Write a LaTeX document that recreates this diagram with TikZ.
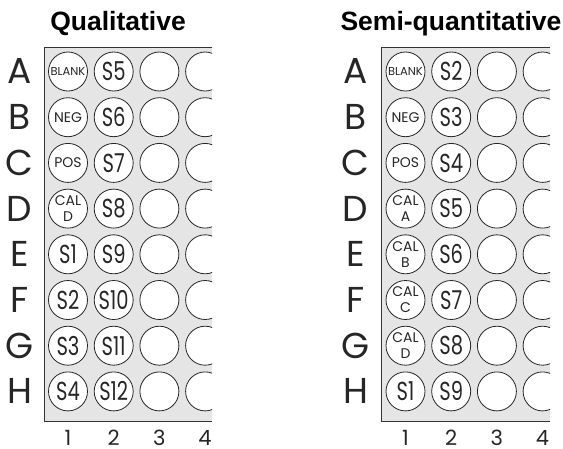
\documentclass[tikz,border=0pt]{standalone}
\usepackage{fontspec}
\setsansfont{Poppins}
\newfontfamily\titlefont{Liberation Sans}
\newfontfamily\wellfont[FakeStretch=0.75]{Poppins}
\usetikzlibrary{positioning}

\begin{document}
\begin{tikzpicture}[x=1pt, y=-1pt,
        plate/.style={fill=black!10},
        rim/.style={draw=black!80, line width=0.9pt},
        well/.style={circle, draw=black!85, fill=white, line width=0.8pt, minimum size=39pt, inner sep=0pt, align=center, font=\wellfont\fontsize{26}{26}\selectfont, text=black!85},
        ctl/.style={font=\sffamily\fontsize{14}{16}\selectfont},
        blank/.style={font=\sffamily\fontsize{11.5}{12}\selectfont},
        rowlab/.style={font=\sffamily\fontsize{36}{36}\selectfont, text=black!85},
        collab/.style={font=\sffamily\fontsize{21}{21}\selectfont, anchor=base, inner sep=1pt, text=black!85},
        title/.style={font=\titlefont\bfseries\fontsize{26.5}{28}\selectfont, anchor=base}
    ]
    \useasboundingbox (0,0) rectangle (563,448);

    % titles
    \node[title] (qual) at (118,30) {Qualitative};
    \node[title] (semi) at (451,30) {Semi-quantitative};

    % left plate
    \fill[plate] (44,47.5) rectangle (212,421.5);
    \begin{scope}
        \clip (44,47.5) rectangle (212,421.5);
        \node[well, blank] (qA1) at (68,71.5) {BLANK};
        \node[well, ctl] (qB1) at (68,117.2) {NEG};
        \node[well, ctl] (qC1) at (68,162.9) {POS};
        \node[well, ctl] (qD1) at (68,208.6) {CAL\\D};
        \node[well] (qE1) at (68,254.3) {S1};
        \node[well] (qF1) at (68,300.0) {S2};
        \node[well] (qG1) at (68,345.7) {S3};
        \node[well] (qH1) at (68,391.4) {S4};
        \foreach \r/\s [count=\i from 0] in {A/S5,B/S6,C/S7,D/S8,E/S9,F/S10,G/S11,H/S12} {
            \node[well] (q\r2) at (113.7,71.5+45.7*\i) {\s};
            \node[well] (q\r3) at (159.4,71.5+45.7*\i) {};
            \node[well] (q\r4) at (205.1,71.5+45.7*\i) {};
        }
    \end{scope}
    \draw[rim] (212,47.5) -- (44,47.5) -- (44,421.5) -- (212,421.5);
    \foreach \r [count=\i from 0] in {A,B,C,D,E,F,G,H}
        \node[rowlab] (qrow\r) at (19.5,71.5+45.7*\i) {\r};
    \foreach \c [count=\i from 0] in {1,2,3,4}
        \node[collab] (qcol\c) at (68+45.7*\i,445) {\c};

    % right plate
    \fill[plate] (381.5,47.5) rectangle (550,421.5);
    \begin{scope}
        \clip (381.5,47.5) rectangle (550,421.5);
        \node[well, blank] (sA1) at (405.5,71.5) {BLANK};
        \node[well, ctl] (sB1) at (405.5,117.2) {NEG};
        \node[well, ctl] (sC1) at (405.5,162.9) {POS};
        \node[well, ctl] (sD1) at (405.5,208.6) {CAL\\A};
        \node[well, ctl] (sE1) at (405.5,254.3) {CAL\\B};
        \node[well, ctl] (sF1) at (405.5,300.0) {CAL\\C};
        \node[well, ctl] (sG1) at (405.5,345.7) {CAL\\D};
        \node[well] (sH1) at (405.5,391.4) {S1};
        \foreach \r/\s [count=\i from 0] in {A/S2,B/S3,C/S4,D/S5,E/S6,F/S7,G/S8,H/S9} {
            \node[well] (s\r2) at (451.2,71.5+45.7*\i) {\s};
            \node[well] (s\r3) at (496.9,71.5+45.7*\i) {};
            \node[well] (s\r4) at (542.6,71.5+45.7*\i) {};
        }
    \end{scope}
    \draw[rim] (550,47.5) -- (381.5,47.5) -- (381.5,421.5) -- (550,421.5);
    \foreach \r [count=\i from 0] in {A,B,C,D,E,F,G,H}
        \node[rowlab] (srow\r) at (355.5,71.5+45.7*\i) {\r};
    \foreach \c [count=\i from 0] in {1,2,3,4}
        \node[collab] (scol\c) at (405.5+45.7*\i,445) {\c};
\end{tikzpicture}
\end{document}
